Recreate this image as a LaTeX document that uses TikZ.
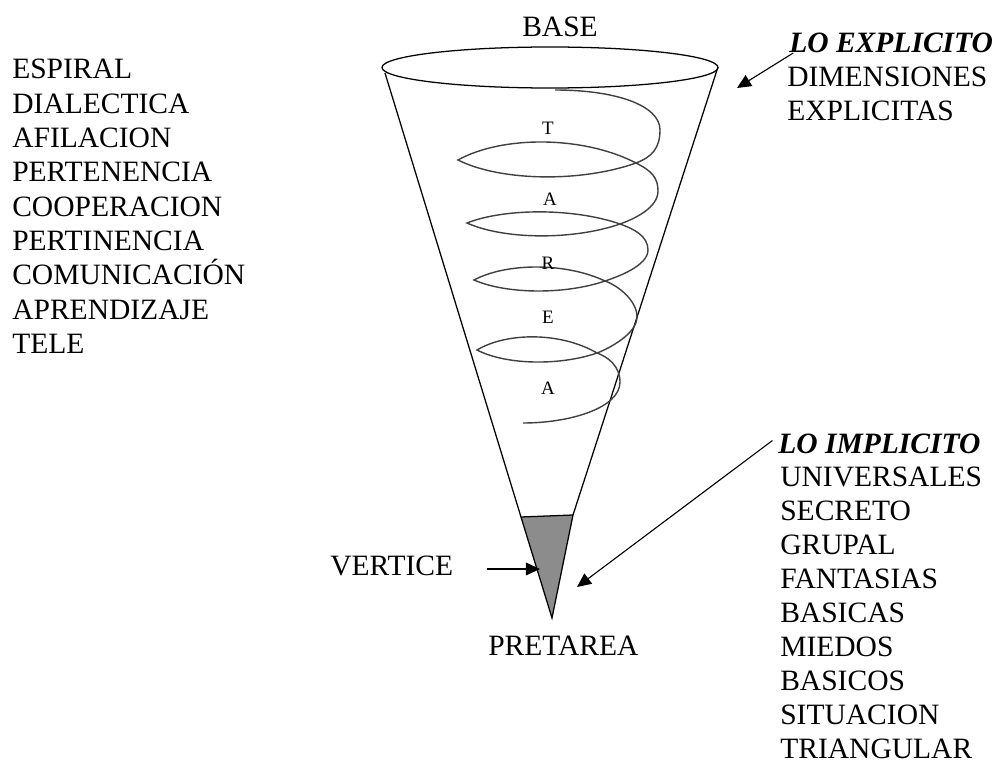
\documentclass[tikz,border=0pt]{standalone}
\usepackage{fontspec}
\setmainfont{Liberation Serif}
\usetikzlibrary{arrows.meta}

\begin{document}
\begin{tikzpicture}[
    x=0.025cm, y=-0.025cm,
    etiqueta/.style={inner sep=0pt, anchor=base west,
        font=\fontsize{21}{24}\selectfont},
    letra/.style={inner sep=0pt, font=\fontsize{13.5}{15}\selectfont},
    borde/.style={line width=0.9pt, black},
    espiral/.style={line width=1pt, black!75},
    flecha/.style={line width=0.8pt, -{Triangle[length=10pt, width=9pt]}},
]
\useasboundingbox (0,0) rectangle (1001,775);

% =============================================================================
% Cono: base, lados y vertice
% =============================================================================
\draw[borde] (550,67.5) ellipse[x radius=168, y radius=20.5];
\draw[borde] (385,73) -- (521,517);
\draw[borde] (718,67) -- (573,515);
\draw[borde, fill=black!45] (521,517) -- (573,515) -- (552,618) -- cycle;

\node[etiqueta] (base) at (522,37) {BASE};

% =============================================================================
% Espiral de la tarea
% =============================================================================
\draw[espiral]
    (555,90) .. controls (615,90) and (660,105) .. (660,130)
    .. controls (660,148) and (652,157) .. (636,163)
    % vuelta 1
    .. controls (583,182) and (502,182) .. (458,160)
    .. controls (502,135.5) and (583,135.5) .. (636,163)
    .. controls (652,171) and (658,178) .. (658,191)
    .. controls (658,208) and (634,219) .. (620,224)
    % vuelta 2
    .. controls (574,240) and (505,240) .. (467,223)
    .. controls (505,208) and (574,208) .. (620,224)
    .. controls (634,229) and (648,236) .. (648,250)
    .. controls (648,266) and (617,277) .. (605,281)
    % vuelta 3
    .. controls (566,294.5) and (507,294.5) .. (474,280)
    .. controls (507,262.5) and (566,262.5) .. (605,281)
    .. controls (617,285) and (637,300) .. (637,317)
    .. controls (637,334) and (608,349) .. (597,353)
    % vuelta 4
    .. controls (561,365.5) and (507,365.5) .. (477,350)
    .. controls (507,332) and (561,332) .. (597,353)
    .. controls (608,357) and (620,366) .. (620,382)
    .. controls (620,408) and (570,423) .. (523,423);

\node[letra] (t1) at (548,128) {T};
\node[letra] (t2) at (550,199) {A};
\node[letra] (t3) at (548,263) {R};
\node[letra] (t4) at (548,317) {E};
\node[letra] (t5) at (548,388) {A};

% =============================================================================
% Columna izquierda
% =============================================================================
\foreach \w [count=\i] in {ESPIRAL, DIALECTICA, AFILACION, PERTENENCIA,
    COOPERACION, PERTINENCIA, COMUNICACIÓN, APRENDIZAJE, TELE} {
    \node[etiqueta] (izq\i) at (12, {79+34.3*(\i-1)}) {\w};
}

% =============================================================================
% Lo explicito
% =============================================================================
\node[etiqueta, font=\fontsize{21}{24}\selectfont\bfseries\itshape]
    (explicito) at (789,53) {LO EXPLICITO};
\node[etiqueta] (dim1) at (787,87) {DIMENSIONES};
\node[etiqueta] (dim2) at (787,120) {EXPLICITAS};

\coordinate (lado) at (737,88);
\draw[flecha] ([xshift=3pt]explicito.base west) -- (lado);

% =============================================================================
% Lo implicito
% =============================================================================
\node[etiqueta, font=\fontsize{21}{24}\selectfont\bfseries\itshape]
    (implicito) at (778,453) {LO IMPLICITO};
\foreach \w [count=\i] in {UNIVERSALES, SECRETO, GRUPAL, FANTASIAS, BASICAS,
    MIEDOS, BASICOS, SITUACION, TRIANGULAR} {
    \node[etiqueta] (der\i) at (780, {453+33.9*\i}) {\w};
}

\coordinate (fondo) at (577,587);
\draw[flecha] ([xshift=-4pt, yshift=2pt]implicito.west) -- (fondo);

% =============================================================================
% Vertice y pretarea
% =============================================================================
\node[etiqueta] (vertice) at (330,575) {VERTICE};
\node[etiqueta] (pretarea) at (488,655) {PRETAREA};

\coordinate (cola) at (487,569);
\coordinate (punta) at (540,569);
\draw[flecha] (cola) -- (punta);

\end{tikzpicture}
\end{document}
